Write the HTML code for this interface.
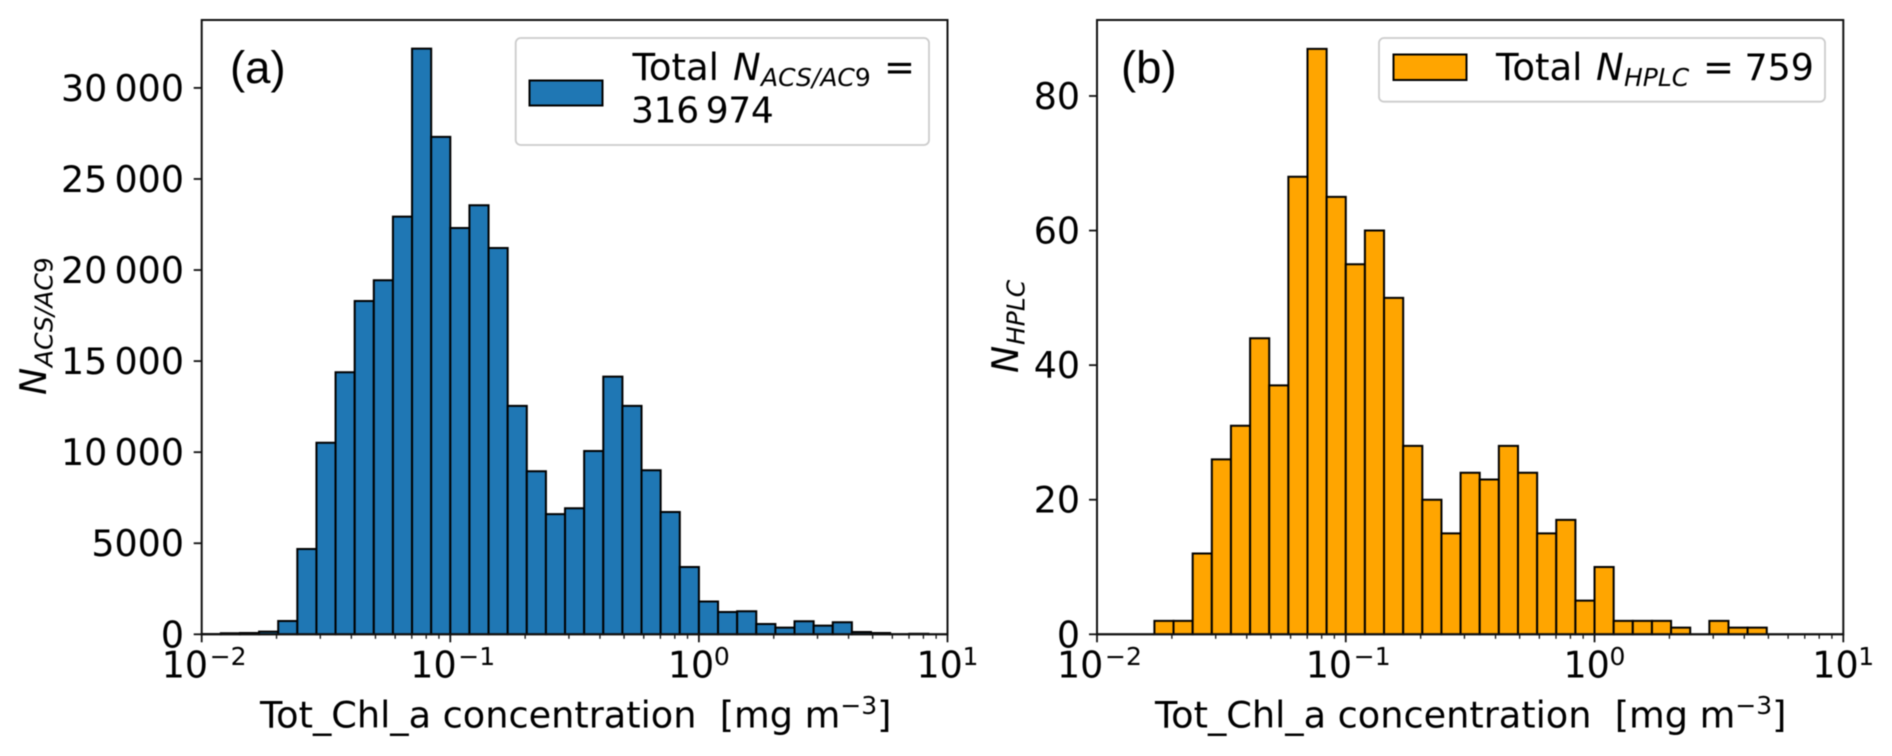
<!DOCTYPE html>
<html lang="en">
<head>
<meta charset="utf-8">
<title>Tot_Chl_a histograms</title>
<style>
html,body{margin:0;padding:0;background:#fff;width:1892px;height:756px;overflow:hidden}
svg{display:block;filter:blur(0.4px)}
text{font-family:"DejaVu Sans","Liberation Sans",sans-serif;fill:#000;white-space:pre}
.t{font-size:36.4px}
.lt{font-size:37px}
.xt{font-size:36.65px}
.s{font-size:25px}
.i{font-style:italic}
.p{font-family:"Liberation Sans",sans-serif;font-size:45.5px}
.leg{fill:#fff;stroke:#ccc;stroke-width:1.8}
</style>
</head>
<body>
<svg id="figure" xmlns="http://www.w3.org/2000/svg" width="1892" height="756" viewBox="0 0 1892 756">
  <rect width="1892" height="756" fill="#fff"/>
  <g id="panel-a"></g>
  <g id="panel-b"></g>

  <text class="p" x="230" y="83">(a)</text>
  <g>
    <rect class="leg" x="515.7" y="38" width="413.3" height="107" rx="5"/>
    <rect x="529.5" y="80.5" width="73" height="25" fill="#1f77b4" stroke="#000" stroke-width="2"/>
    <text class="lt" x="632.5" y="80">Total</text>
    <text class="lt i" x="733" y="80">N</text>
    <text class="s i" x="761" y="86">ACS/AC<tspan font-style="normal">9</tspan></text>
    <text class="lt" x="884" y="80">=</text>
    <text class="t" x="631" y="122.5" style="font-size:36px;letter-spacing:-0.3px">316&#8201;974</text>
  </g>

  <text class="p" x="1121" y="83">(b)</text>
  <g>
    <rect class="leg" x="1379" y="38" width="446" height="63.7" rx="5"/>
    <rect x="1393.5" y="54.5" width="73" height="25.5" fill="#ffa500" stroke="#000" stroke-width="2"/>
    <text class="lt" x="1496" y="80">Total</text>
    <text class="lt i" x="1596" y="80">N</text>
    <text class="s i" x="1624" y="86">HPLC</text>
    <text class="lt" x="1703" y="80">=</text>
    <text class="t" x="1744.5" y="80">759</text>
  </g>

  <g transform="translate(46,395) rotate(-90)">
    <text class="t i" x="0" y="0">N</text>
    <text class="s i" x="28" y="6.5">ACS/AC<tspan font-style="normal">9</tspan></text>
  </g>
  <g transform="translate(1018,373) rotate(-90)">
    <text class="t i" x="0" y="0">N</text>
    <text class="s i" x="28" y="6.5">HPLC</text>
  </g>

  <text class="xt" x="260" y="727.7">Tot_Chl_a concentration  [mg m<tspan class="s" dy="-13.7">−3</tspan><tspan dy="13.7">]</tspan></text>
  <text class="xt" x="1155" y="727.7">Tot_Chl_a concentration  [mg m<tspan class="s" dy="-13.7">−3</tspan><tspan dy="13.7">]</tspan></text>
</svg>

<script>
const binEdges = [
  0.01, 0.011938, 0.014251, 0.017013, 0.020309, 0.024245, 0.028943, 0.034551, 0.041246, 0.049239, 0.05878, 0.07017, 0.083768,
  0.1, 0.11938, 0.14251, 0.17013, 0.20309, 0.24245, 0.28943, 0.34551, 0.41246, 0.49239, 0.5878, 0.7017, 0.83768,
  1, 1.1938, 1.4251, 1.7013, 2.0309, 2.4245, 2.8943, 3.4551, 4.1246, 4.9239, 5.878, 7.017, 8.3768, 10
];
const countsAcs = [
  20, 60, 70, 150, 730, 4685, 10520, 14390, 18300, 19440, 22930, 32160, 27310,
  22310, 23560, 21210, 12540, 8950, 6600, 6920, 10065, 14150, 12540, 9005, 6716, 3695,
  1800, 1226, 1263, 567, 366, 714, 476, 659, 128, 73, 10, 27, 5
];
const countsHplc = [
  0, 0, 0, 2, 2, 12, 26, 31, 44, 37, 68, 87, 65,
  55, 60, 50, 28, 20, 15, 24, 23, 28, 24, 15, 17, 5,
  10, 2, 2, 2, 1, 0, 2, 1, 1, 0, 0, 0, 0
];
const yTicksAcs = [0, 5000, 10000, 15000, 20000, 25000, 30000];
const yTickLabelsAcs = ["0", "5000", "10\u2009000", "15\u2009000", "20\u2009000", "25\u2009000", "30\u2009000"];
const yTicksHplc = [0, 20, 40, 60, 80];
const yTickLabelsHplc = ["0", "20", "40", "60", "80"];
const xDecadeExponents = [-2, -1, 0, 1];
const xMinorMultipliers = [2, 3, 4, 5, 6, 7, 8, 9];

const NS = "http://www.w3.org/2000/svg";
function mk(tag, parent) {
  const node = document.createElementNS(NS, tag);
  parent.appendChild(node);
  return node;
}

function drawPanel(rootId, box, counts, yTicks, yLabels, yPerUnit, color, labelRight) {
  const root = document.getElementById(rootId);
  const xScale = v => box.left + (Math.log10(v) + 2) / 3 * (box.right - box.left);
  const yScale = v => box.bottom - v * yPerUnit;

  counts.forEach((count, i) => {
    const bar = mk("path", root);
    
    
    const x0 = xScale(binEdges[i]).toFixed(2);
    const x1 = xScale(binEdges[i + 1]).toFixed(2);
    const top = yScale(count).toFixed(2);
    bar.setAttribute("d", `M${x0} ${box.bottom}V${top}H${x1}V${box.bottom}Z`);
    bar.setAttribute("fill", color);
    bar.setAttribute("stroke", "#000");
    bar.setAttribute("stroke-width", "2");
  });

  const frame = mk("rect", root);
  
  
  frame.setAttribute("x", box.left);
  frame.setAttribute("y", box.top);
  frame.setAttribute("width", box.right - box.left);
  frame.setAttribute("height", box.bottom - box.top);
  frame.setAttribute("fill", "none");
  frame.setAttribute("stroke", "#111");
  frame.setAttribute("stroke-width", "2");

  yTicks.forEach((value, i) => {
    const y = yScale(value);
    const tick = mk("line", root);
    
    
    tick.setAttribute("x1", box.left - 8);
    tick.setAttribute("x2", box.left);
    tick.setAttribute("y1", y);
    tick.setAttribute("y2", y);
    tick.setAttribute("stroke", "#111");
    tick.setAttribute("stroke-width", "1.8");
    const label = mk("text", root);
    
    
    label.setAttribute("class", "t");
    label.setAttribute("x", labelRight);
    label.setAttribute("y", y + 13);
    label.setAttribute("text-anchor", "end");
    label.textContent = yLabels[i];
  });

  xDecadeExponents.forEach((exp, d) => {
    const x = xScale(Math.pow(10, exp));
    const tick = mk("line", root);
    
    
    tick.setAttribute("x1", x);
    tick.setAttribute("x2", x);
    tick.setAttribute("y1", box.bottom);
    tick.setAttribute("y2", box.bottom + 8);
    tick.setAttribute("stroke", "#111");
    tick.setAttribute("stroke-width", "1.8");

    const neg = exp < 0;
    const base = mk("text", root);
    
    
    base.setAttribute("class", "t");
    base.setAttribute("x", x + (neg ? -40 : -31));
    base.setAttribute("y", 677.7);
    base.textContent = "10";
    const sup = mk("text", root);
    
    
    sup.setAttribute("class", "s");
    sup.setAttribute("x", x + (neg ? 8 : 15));
    sup.setAttribute("y", 665);
    sup.textContent = (neg ? "\u2212" : "") + Math.abs(exp);

    if (d < xDecadeExponents.length - 1) {
      xMinorMultipliers.forEach(m => {
        const mx = xScale(m * Math.pow(10, exp));
        const minor = mk("line", root);
        
        
        minor.setAttribute("x1", mx);
        minor.setAttribute("x2", mx);
        minor.setAttribute("y1", box.bottom);
        minor.setAttribute("y2", box.bottom + 4.5);
        minor.setAttribute("stroke", "#111");
        minor.setAttribute("stroke-width", "1.3");
      });
    }
  });
}

drawPanel("panel-a", {left: 201.7, right: 947.5, top: 20, bottom: 634.3}, countsAcs, yTicksAcs, yTickLabelsAcs, 0.018213, "#1f77b4", 184);
drawPanel("panel-b", {left: 1097, right: 1843.3, top: 20, bottom: 634.3}, countsHplc, yTicksHplc, yTickLabelsHplc, 6.729, "#ffa500", 1080);
</script>
</body>
</html>
